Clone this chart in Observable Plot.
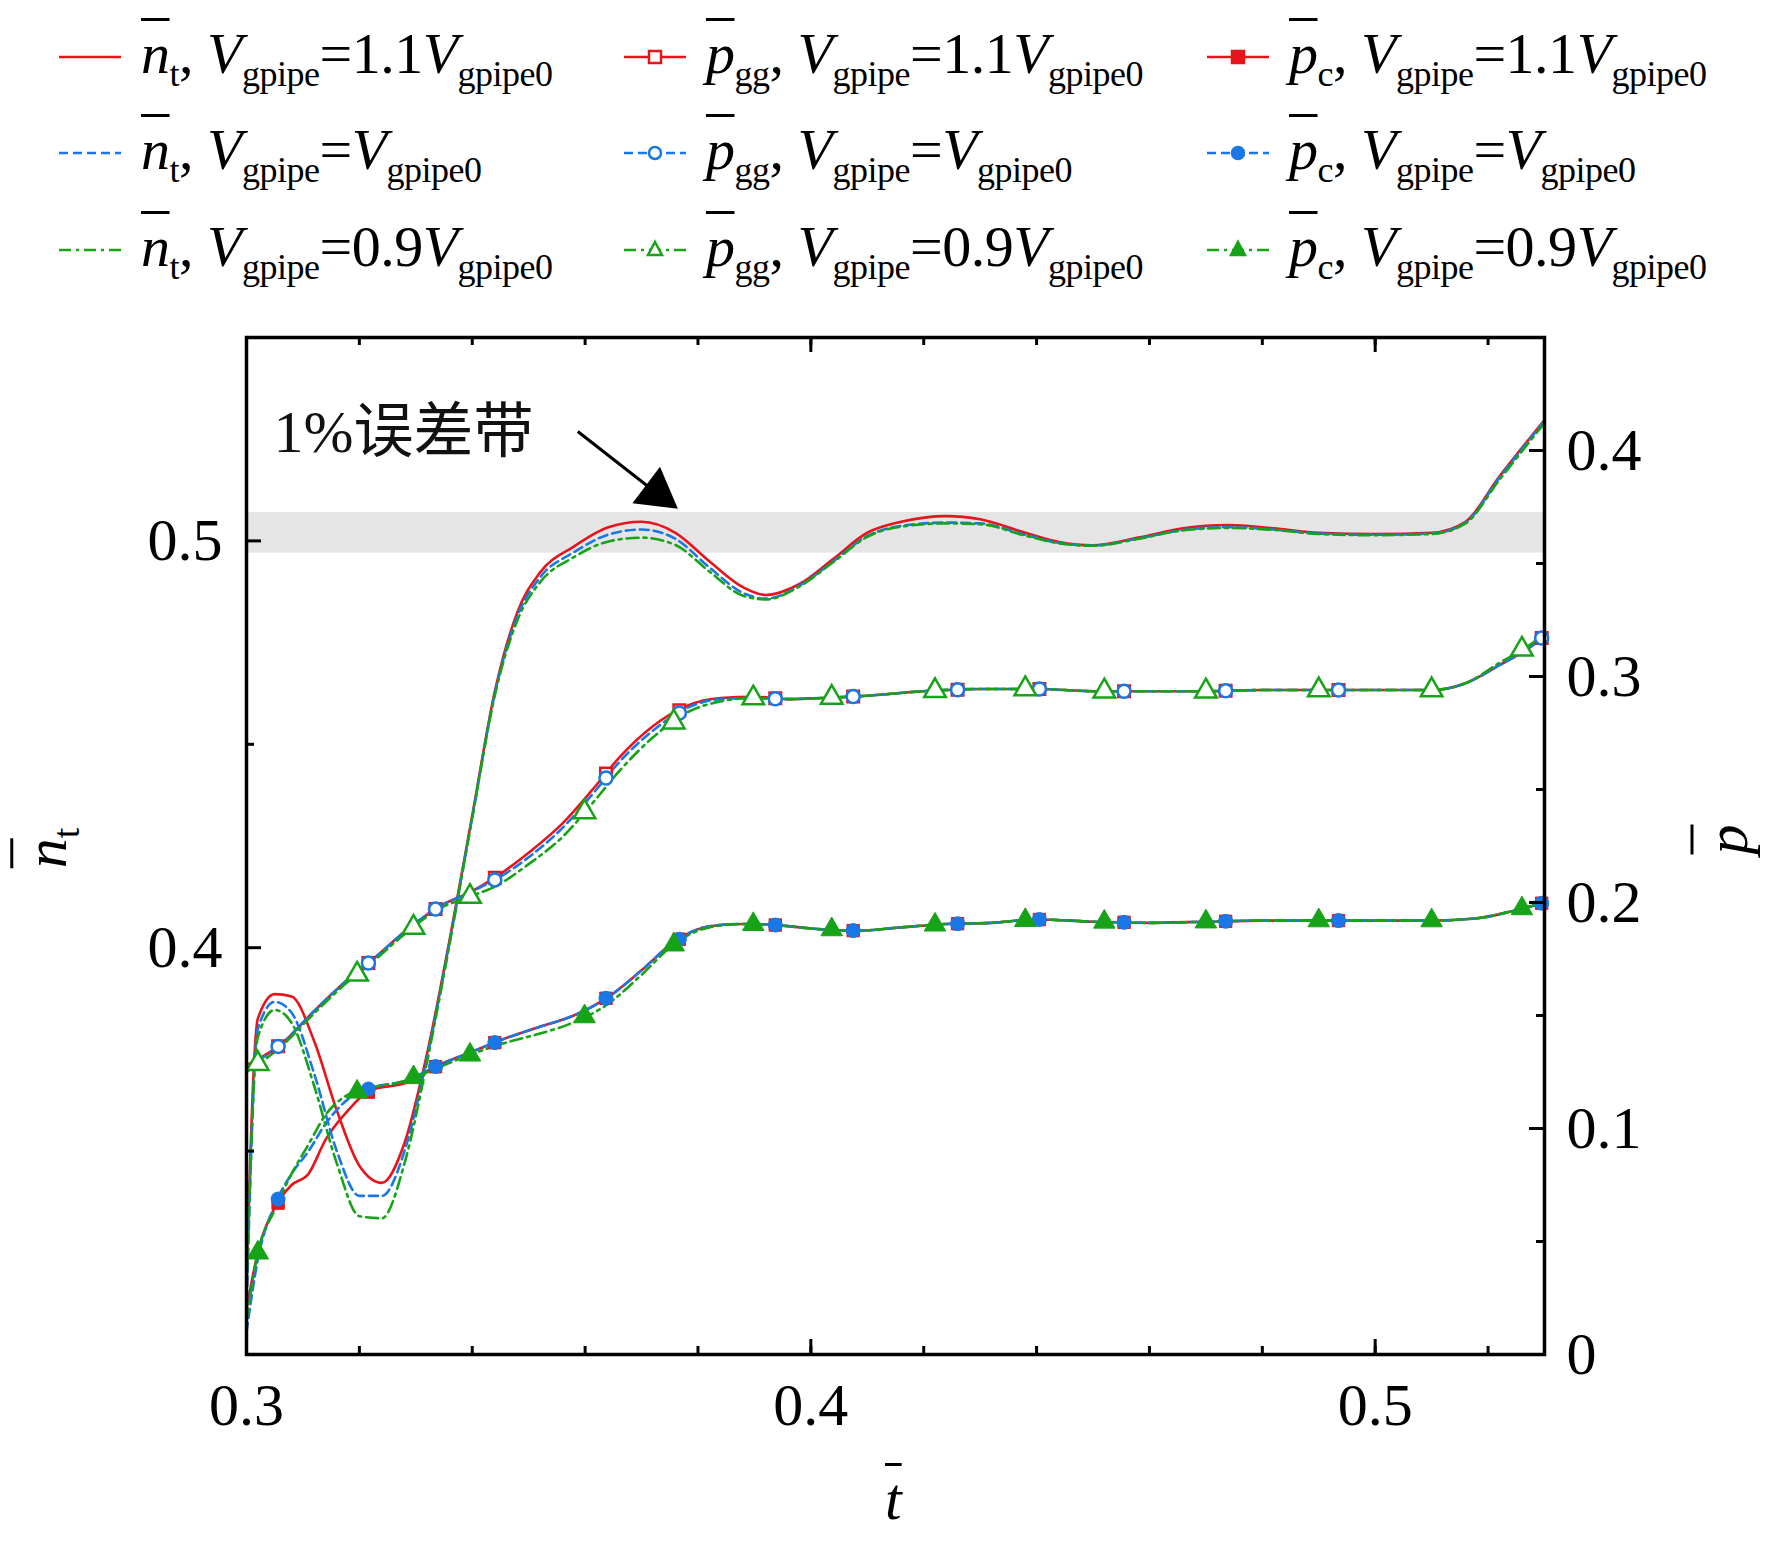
<!DOCTYPE html>
<html><head><meta charset="utf-8">
<script src="https://cdn.jsdelivr.net/npm/d3@7"></script>
<script src="https://cdn.jsdelivr.net/npm/@observablehq/plot@0.6"></script>
<style>
body{margin:0;background:#fff;font-family:"Liberation Serif",serif;}
#wrap{position:relative;width:1772px;height:1543px;}
#legend{position:absolute;left:0;top:0;width:1772px;height:300px;}
.item{position:absolute;display:flex;align-items:center;font-size:58px;white-space:nowrap;letter-spacing:-0.5px;}
.item sub{font-size:36px;}
.ov{font-style:italic;text-decoration:overline;text-decoration-thickness:3px;}
#chart{position:absolute;left:0;top:300px;}
.lab{position:absolute;font-size:60px;}
</style></head><body>
<div id="wrap"><div id="legend"></div><div id="chart"></div>
<div class="lab" style="left:30px;top:810px;transform:rotate(-90deg);"><span class="ov">n</span><sub style="font-size:38px">t</sub></div>
<div class="lab" style="left:1712px;top:805px;transform:rotate(-90deg);"><span class="ov">p</span></div>
<div class="lab" style="left:885px;top:1465px;"><span class="ov">t</span></div>
</div>
<script>
const tN=[0.300,0.302,0.305,0.308,0.312,0.316,0.320,0.324,0.328,0.332,0.336,0.340,0.344,0.348,0.352,0.358,0.364,0.370,0.376,0.382,0.388,0.392,0.398,0.404,0.410,0.416,0.424,0.430,0.438,0.444,0.450,0.458,0.466,0.474,0.482,0.490,0.500,0.510,0.516,0.522,0.530];
const nRed=[0.3186,0.3825,0.3886,0.3880,0.3770,0.3600,0.3464,0.3422,0.3520,0.3740,0.4020,0.4325,0.4630,0.4825,0.4922,0.4986,0.5033,0.5047,0.5020,0.4950,0.4886,0.4867,0.4894,0.4956,0.5020,0.5047,0.5061,0.5053,0.5020,0.4997,0.4989,0.5008,0.5031,0.5039,0.5031,0.5020,0.5017,0.5020,0.5047,0.5158,0.5297];
const nBlue=[0.3100,0.3800,0.3867,0.3840,0.3690,0.3500,0.3390,0.3390,0.3500,0.3730,0.4015,0.4320,0.4625,0.4815,0.4910,0.4972,0.5015,0.5028,0.5005,0.4935,0.4872,0.4858,0.4890,0.4950,0.5012,0.5037,0.5045,0.5043,0.5015,0.4995,0.4989,0.5006,0.5027,0.5034,0.5028,0.5018,0.5015,0.5018,0.5045,0.5155,0.5295];
const nGreen=[0.3150,0.3780,0.3847,0.3815,0.3660,0.3470,0.3340,0.3335,0.3470,0.3720,0.4010,0.4320,0.4620,0.4805,0.4898,0.4960,0.4998,0.5008,0.4990,0.4925,0.4865,0.4856,0.4888,0.4948,0.5010,0.5035,0.5043,0.5041,0.5013,0.4994,0.4988,0.5005,0.5026,0.5032,0.5027,0.5017,0.5014,0.5017,0.5043,0.5150,0.5290];
const tG=[0.300,0.306,0.312,0.318,0.322,0.328,0.334,0.340,0.344,0.350,0.356,0.362,0.366,0.372,0.378,0.384,0.390,0.396,0.402,0.410,0.420,0.430,0.440,0.450,0.460,0.470,0.480,0.490,0.500,0.510,0.516,0.522,0.528,0.530];
const gRed=[0.128,0.137,0.152,0.166,0.174,0.187,0.198,0.205,0.211,0.222,0.235,0.252,0.264,0.278,0.287,0.2905,0.291,0.290,0.2905,0.2915,0.2935,0.2945,0.2945,0.2935,0.2935,0.2935,0.294,0.294,0.294,0.294,0.297,0.305,0.314,0.318];
const gBlue=[0.127,0.137,0.152,0.166,0.174,0.187,0.198,0.205,0.210,0.220,0.233,0.250,0.262,0.276,0.286,0.290,0.2905,0.290,0.2905,0.2915,0.2935,0.2945,0.2945,0.2935,0.2935,0.2935,0.294,0.294,0.294,0.294,0.297,0.305,0.314,0.318];
const gGreen=[0.125,0.136,0.151,0.165,0.173,0.186,0.197,0.203,0.207,0.217,0.229,0.246,0.258,0.273,0.284,0.289,0.2905,0.290,0.2905,0.2915,0.2935,0.2945,0.2945,0.2935,0.2935,0.2935,0.294,0.294,0.294,0.294,0.297,0.306,0.315,0.319];
const tC=[0.300,0.302,0.305,0.308,0.311,0.314,0.318,0.322,0.328,0.334,0.340,0.346,0.352,0.358,0.364,0.370,0.376,0.382,0.388,0.394,0.400,0.408,0.416,0.424,0.432,0.440,0.450,0.460,0.470,0.480,0.490,0.500,0.510,0.518,0.524,0.530];
const cRed=[0.020,0.045,0.065,0.075,0.080,0.095,0.108,0.117,0.120,0.128,0.134,0.140,0.145,0.150,0.158,0.170,0.183,0.1895,0.1905,0.190,0.1885,0.1875,0.189,0.1905,0.191,0.1925,0.1915,0.191,0.1915,0.192,0.192,0.192,0.192,0.193,0.196,0.200];
const cBlue=[0.010,0.042,0.066,0.080,0.090,0.102,0.113,0.118,0.121,0.128,0.134,0.140,0.145,0.150,0.158,0.170,0.183,0.1895,0.1905,0.190,0.1885,0.1875,0.189,0.1905,0.191,0.1925,0.1915,0.191,0.1915,0.192,0.192,0.192,0.192,0.193,0.196,0.200];
const cGreen=[0.015,0.045,0.064,0.080,0.093,0.106,0.115,0.118,0.121,0.127,0.133,0.138,0.142,0.147,0.155,0.168,0.182,0.189,0.1905,0.190,0.1885,0.1875,0.189,0.1905,0.191,0.1925,0.1915,0.191,0.1915,0.192,0.192,0.192,0.192,0.193,0.196,0.200];
const mkRB=[0.3056,0.3216,0.3335,0.344,0.3637,0.3767,0.3937,0.4075,0.426,0.4405,0.4555,0.4735,0.4935,0.5295];
const mkG=[0.302,0.3196,0.3296,0.3396,0.3599,0.3757,0.3898,0.4037,0.422,0.438,0.452,0.470,0.490,0.510,0.526];
const xTicks=[0.3,0.4,0.5], yTicks=[0.4,0.5], pTicks=[0,0.1,0.2,0.3,0.4];
const band=[0.497,0.507];
const labels=["1.1<i>V</i><sub>gpipe0</sub>","<i>V</i><sub>gpipe0</sub>","0.9<i>V</i><sub>gpipe0</sub>"];

const RED="#e8141c", BLUE="#1a78e6", GREEN="#17a317";
const cols=[RED,BLUE,GREEN], dashes=[null,"9,5","12,5,3,5"];
const X0=0.3,X1=0.53,Y0=0.3,Y1=0.55,P1=0.45;
const p2n=p=>Y0+p*(Y1-Y0)/P1;
const interp=(ts,vs)=>t=>{const i=Math.max(1,d3.bisectLeft(ts,t));const a=ts[i-1],b=ts[i];return vs[i-1]+(vs[i]-vs[i-1])*(t-a)/(b-a);};

const W=1772,H=1243,mL=246,mR=228,mT=37,mB=189;
const pxX=(X1-X0)/(W-mL-mR), pxY=(Y1-Y0)/(H-mT-mB);
const tk=(len)=>len*pxY, tkx=(len)=>len*pxX;

const nSets=[nRed,nBlue,nGreen], gSets=[gRed,gBlue,gGreen], cSets=[cRed,cBlue,cGreen];
const marks=[];
marks.push(Plot.rectY([0],{x1:X0,x2:X1,y1:band[0],y2:band[1],fill:"#e5e5e5"}));
[0,1,2].forEach(k=>{
  const st={stroke:cols[k],strokeWidth:2.6,strokeDasharray:dashes[k],curve:"monotone-x"};
  marks.push(Plot.line(tN.map((t,i)=>({t,v:nSets[k][i]})),{x:"t",y:"v",...st}));
  marks.push(Plot.line(tG.map((t,i)=>({t,v:p2n(gSets[k][i])})),{x:"t",y:"v",...st}));
  marks.push(Plot.line(tC.map((t,i)=>({t,v:p2n(cSets[k][i])})),{x:"t",y:"v",...st}));
});
const sym=["square","circle","triangle"];
[0,1,2].forEach(k=>{
  const ts=k==2?mkG:mkRB;
  const fg=interp(tG,gSets[k]), fc=interp(tC,cSets[k]);
  marks.push(Plot.dot(ts.map(t=>({t,v:p2n(fg(t))})),{x:"t",y:"v",symbol:sym[k],r:k==2?8:6.5,stroke:cols[k],strokeWidth:2.5,fill:"white"}));
  marks.push(Plot.dot(ts.map(t=>({t,v:p2n(fc(t))})),{x:"t",y:"v",symbol:sym[k],r:k==2?8:7,fill:cols[k],stroke:cols[k],strokeWidth:1}));
});
marks.push(Plot.text([0],{x:0.3048,y:0.5265,text:()=>"1%误差带",fontSize:60,textAnchor:"start",fill:"#111",fontFamily:"Liberation Serif, Noto Sans CJK SC"}));
marks.push(Plot.link([0],{x1:0.3587,y1:0.5269,x2:0.3715,y2:0.5130,stroke:"black",strokeWidth:3}));
marks.push(Plot.dot([0],{x:0.3727,y:0.5118,symbol:"triangle",r:17,fill:"black",rotate:127}));
const xMaj=d3.range(0.30,0.531,0.1), xMin=d3.range(0.30,0.531,0.02);
marks.push(Plot.ruleX(xMin,{x:d=>d,y1:Y0,y2:Y0+tk(8),stroke:"black",strokeWidth:3}));
marks.push(Plot.ruleX(xMin,{x:d=>d,y1:Y1,y2:Y1-tk(8),stroke:"black",strokeWidth:3}));
marks.push(Plot.ruleX(xMaj,{x:d=>d,y1:Y0,y2:Y0+tk(15),stroke:"black",strokeWidth:3}));
marks.push(Plot.ruleX(xMaj,{x:d=>d,y1:Y1,y2:Y1-tk(15),stroke:"black",strokeWidth:3}));
const yMin=[0.35,0.45];
marks.push(Plot.ruleY(yTicks,{y:d=>d,x1:X0,x2:X0+tkx(15),stroke:"black",strokeWidth:3}));
marks.push(Plot.ruleY(yMin,{y:d=>d,x1:X0,x2:X0+tkx(8),stroke:"black",strokeWidth:3}));
const pMin=[0.05,0.15,0.25,0.35];
marks.push(Plot.ruleY(pTicks.map(p2n),{y:d=>d,x1:X1,x2:X1-tkx(15),stroke:"black",strokeWidth:3}));
marks.push(Plot.ruleY(pMin.map(p2n),{y:d=>d,x1:X1,x2:X1-tkx(8),stroke:"black",strokeWidth:3}));
marks.push(Plot.frame({stroke:"black",strokeWidth:3.5}));
marks.push(Plot.axisX({ticks:xTicks,tickSize:0,tickPadding:28,tickFormat:d3.format(".1f"),fontSize:60,label:null}));
marks.push(Plot.axisY({ticks:yTicks,tickSize:0,tickPadding:24,tickFormat:d3.format(".1f"),fontSize:60,label:null}));
marks.push(Plot.axisY(pTicks.map(p2n),{anchor:"right",tickSize:0,tickPadding:22,tickFormat:(d,i)=>{const p=pTicks[i];return p===0?"0":p.toFixed(1);},fontSize:60,label:null}));

const chart=Plot.plot({width:W,height:H,marginLeft:mL,marginRight:mR,marginTop:mT,marginBottom:mB,
  style:{fontFamily:"Liberation Serif, serif",color:"black",background:"white",overflow:"visible"},
  x:{domain:[X0,X1]},y:{domain:[Y0,Y1]},marks});
document.getElementById("chart").appendChild(chart);

const names=['<span class="ov">n</span><sub>t</sub>','<span class="ov">p</span><sub>gg</sub>','<span class="ov">p</span><sub>c</sub>'];
const colX=[57,622,1205], rowY=[57,153,250];
const lg=document.getElementById("legend");
for(let r=0;r<3;r++)for(let c=0;c<3;c++){
  const d=document.createElement("div");d.className="item";
  d.style.left=colX[c]+"px";d.style.top=(rowY[r]-40)+"px";d.style.height="80px";
  let sample=`<svg width="66" height="30" style="margin-right:18px;overflow:visible"><line x1="2" x2="64" y1="15" y2="15" stroke="${cols[r]}" stroke-width="2.6" ${dashes[r]?`stroke-dasharray="${dashes[r]}"`:""}/>`;
  if(c>0){const f=c==2?cols[r]:"white";
    if(r==0)sample+=`<rect x="27" y="9" width="12" height="12" fill="${f}" stroke="${cols[r]}" stroke-width="2.5"/>`;
    if(r==1)sample+=`<circle cx="33" cy="15" r="6" fill="${f}" stroke="${cols[r]}" stroke-width="2.5"/>`;
    if(r==2)sample+=`<path d="M33,7 L40,20 L26,20 Z" fill="${f}" stroke="${cols[r]}" stroke-width="2.5"/>`;}
  sample+="</svg>";
  d.innerHTML=sample+`<span>${names[c]}, <i>V</i><sub>gpipe</sub>=${labels[r]}</span>`;
  lg.appendChild(d);
}
</script></body></html>
